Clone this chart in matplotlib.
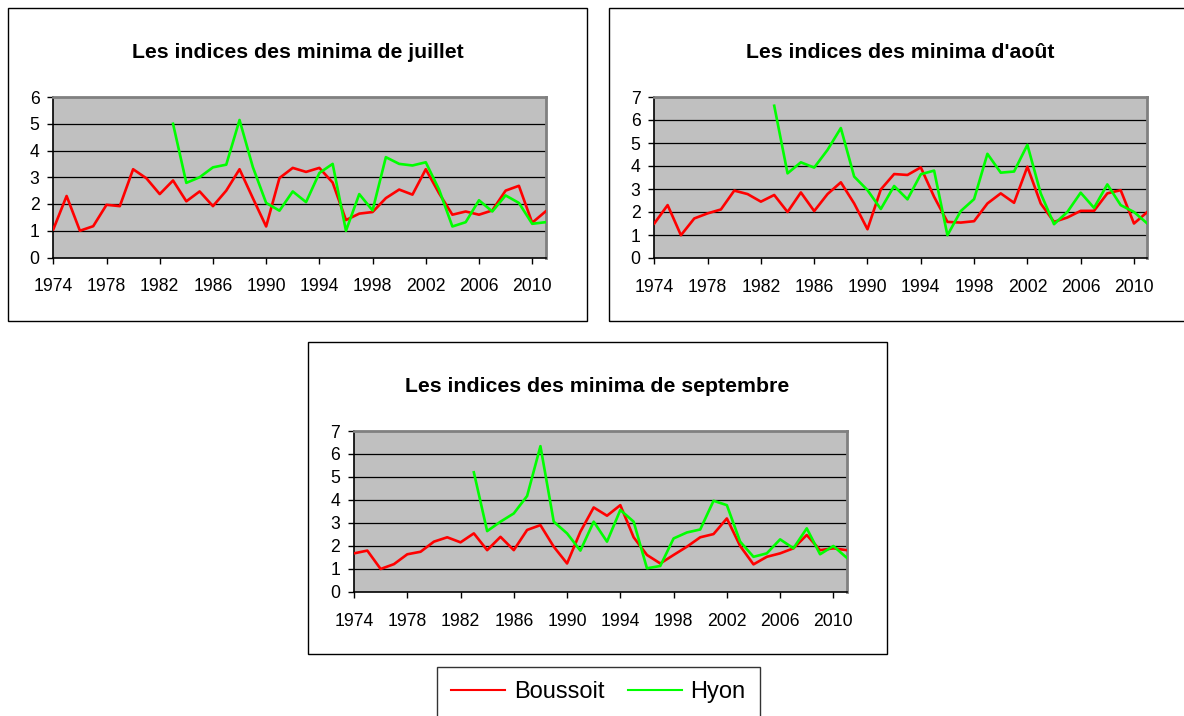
import matplotlib
matplotlib.use("Agg")
import matplotlib.pyplot as plt
from matplotlib.patches import Rectangle
import numpy as np

plt.rcParams['font.family'] = ['Liberation Sans', 'DejaVu Sans']

years = list(range(1974, 2012))
hyon_start = 1983

titles = ["Les indices des minima de juillet",
          "Les indices des minima d'août",
          "Les indices des minima de septembre"]

boussoit_jul = [1.05, 2.3, 1.0, 1.17, 1.97, 1.92, 3.3, 2.96, 2.37, 2.88,
                2.1, 2.47, 1.92, 2.5, 3.3, 2.22, 1.16, 2.97, 3.35, 3.2,
                3.35, 2.8, 1.4, 1.64, 1.7, 2.22, 2.54, 2.35, 3.3, 2.4,
                1.6, 1.72, 1.6, 1.76, 2.5, 2.68, 1.3, 1.72]
hyon_jul = [5.0, 2.79, 3.0, 3.37, 3.47, 5.14, 3.38, 2.04, 1.75, 2.47,
            2.07, 3.16, 3.5, 1.0, 2.37, 1.76, 3.75, 3.5, 3.44, 3.56,
            2.54, 1.16, 1.32, 2.14, 1.72, 2.32, 2.04, 1.26, 1.32]

boussoit_aug = [1.5, 2.3, 0.99, 1.72, 1.94, 2.11, 2.93, 2.78, 2.45, 2.74,
                2.0, 2.85, 2.04, 2.78, 3.29, 2.37, 1.25, 2.98, 3.65, 3.61,
                3.94, 2.66, 1.57, 1.54, 1.6, 2.37, 2.81, 2.4, 3.97, 2.37,
                1.57, 1.76, 2.05, 2.05, 2.81, 2.95, 1.5, 2.0]
hyon_aug = [6.62, 3.68, 4.16, 3.93, 4.7, 5.65, 3.54, 2.95, 2.13, 3.13,
            2.55, 3.64, 3.8, 0.99, 2.04, 2.56, 4.53, 3.71, 3.76, 4.92,
            2.81, 1.47, 2.0, 2.84, 2.18, 3.2, 2.3, 2.0, 1.5]

boussoit_sep = [1.67, 1.79, 0.99, 1.2, 1.63, 1.74, 2.18, 2.37, 2.15, 2.54,
                1.81, 2.39, 1.81, 2.69, 2.9, 1.96, 1.23, 2.61, 3.67, 3.31,
                3.77, 2.37, 1.6, 1.23, 1.6, 1.96, 2.37, 2.51, 3.19, 1.99,
                1.19, 1.52, 1.67, 1.89, 2.47, 1.81, 1.89, 1.81]
hyon_sep = [5.2, 2.64, 3.05, 3.41, 4.17, 6.34, 3.05, 2.54, 1.79, 3.05,
            2.18, 3.56, 3.05, 1.02, 1.12, 2.32, 2.58, 2.71, 3.96, 3.77,
            2.18, 1.52, 1.67, 2.28, 1.89, 2.76, 1.63, 1.99, 1.48]

series_names = ["Boussoit", "Hyon"]
colors = ["#FF0000", "#00FF00"]
y_max = [6, 7, 7]
xtick_labels = list(range(1974, 2011, 4))

W, H = 1184, 716
fig = plt.figure(figsize=(W / 100, H / 100), dpi=100)

def fx(x):
    return x / W

def fy(y):
    return 1 - y / H

# chart boxes (px): left, top, right, bottom
boxes = [(8, 8, 587, 321), (609, 8, 1190, 321), (308, 342, 887.5, 653.5)]
# plot areas (px): left, top, right, bottom
plots = [(53.3, 97, 545.5, 257.5), (654.3, 97, 1147.3, 258), (354, 431, 846.7, 591.7)]
title_pos = [(297.5, 52), (900, 52), (597.5, 386)]

data = [(boussoit_jul, hyon_jul), (boussoit_aug, hyon_aug), (boussoit_sep, hyon_sep)]
hyon_years = [y for y in years if y >= hyon_start]

handles = []
for i in range(3):
    bl, bt, br, bb = boxes[i]
    fig.patches.append(Rectangle((fx(bl), fy(bb)), fx(br - bl), (bb - bt) / H,
                                 transform=fig.transFigure, fill=False,
                                 edgecolor='black', linewidth=1.0, zorder=0))
    pl, pt, pr, pb = plots[i]
    ax = fig.add_axes([fx(pl), fy(pb), fx(pr - pl), (pb - pt) / H])
    ax.set_facecolor('#C0C0C0')
    b, h = data[i]
    l1, = ax.plot(years, b, color=colors[0], linewidth=1.9, zorder=3)
    l2, = ax.plot(hyon_years, h, color=colors[1], linewidth=1.9, zorder=4)
    if i == 0:
        handles = [l1, l2]
    ax.set_xlim(1974, 2011)
    ax.set_ylim(0, y_max[i])
    for v in range(1, y_max[i]):
        ax.axhline(v, color='black', linewidth=0.9, zorder=1)
    ax.set_yticks(range(0, y_max[i] + 1))
    ax.set_xticks(xtick_labels)
    ax.set_xticklabels([str(v) for v in xtick_labels])
    ax.tick_params(axis='y', direction='out', length=4, width=1, pad=6, labelsize=12.7)
    ax.tick_params(axis='x', direction='out', length=4, width=1, pad=11, labelsize=12.7)
    for s in ['left', 'bottom']:
        ax.spines[s].set_color('black')
        ax.spines[s].set_linewidth(1.2)
    for s in ['top', 'right']:
        ax.spines[s].set_color('#808080')
        ax.spines[s].set_linewidth(2.0)
    tx, ty = title_pos[i]
    fig.text(fx(tx), fy(ty), titles[i], ha='center', va='center',
             fontsize=15.3, fontweight='bold')

leg = fig.legend(handles, series_names, loc='upper left',
                 bbox_to_anchor=(fx(437), fy(667)), ncol=2, fontsize=17,
                 frameon=True, fancybox=False, edgecolor='black',
                 handlelength=2.3, handletextpad=0.35, columnspacing=1.0,
                 borderpad=0.6, borderaxespad=0)
leg.get_frame().set_linewidth(1.0)
for ln in leg.get_lines():
    ln.set_linewidth(1.5)

fig.savefig('out.png', dpi=100)
